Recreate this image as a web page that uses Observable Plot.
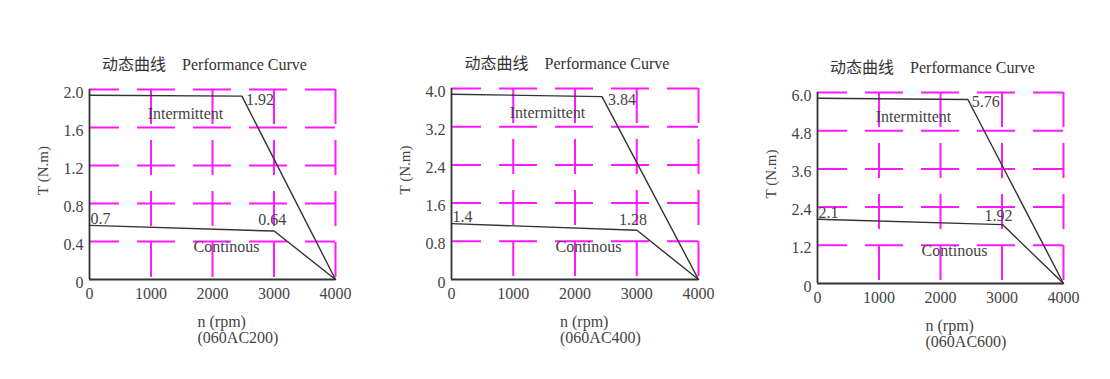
<!DOCTYPE html>
<html><head><meta charset="utf-8">
<script src="https://cdn.jsdelivr.net/npm/d3@7"></script>
<script src="https://cdn.jsdelivr.net/npm/@observablehq/plot@0.6"></script>
<style>
body{margin:0;background:#fff;}
#wrap{position:relative;width:1110px;height:379px;overflow:hidden;background:#fff}
#wrap svg{position:absolute;overflow:visible;}
</style></head><body><div id="wrap"></div>
<script>
// ---- data ----
const speedTicks = [0, 1000, 2000, 3000, 4000];
const models = ["060AC200", "060AC400", "060AC600"];
const yMax = [2.0, 4.0, 6.0];
const yTicks = [
  [0, 0.4, 0.8, 1.2, 1.6, 2.0],
  [0, 0.8, 1.6, 2.4, 3.2, 4.0],
  [0, 1.2, 2.4, 3.6, 4.8, 6.0]
];
// intermittent curve (rpm, torque N.m)
const intermittentRpm = [[0, 2478, 4000], [0, 2437, 4000], [0, 2445, 4000]];
const intermittentT   = [[1.94, 1.93, 0], [3.88, 3.83, 0], [5.82, 5.78, 0]];
// continuous curve (rpm, torque N.m)
const continuousRpm = [[0, 3003, 4000], [0, 3003, 4000], [0, 3008, 4000]];
const continuousT   = [[0.57, 0.51, 0], [1.17, 1.03, 0], [2.02, 1.85, 0]];
// annotation texts
const peakLabels = ["1.92", "3.84", "5.76"];
const contStartLabels = ["0.7", "1.4", "2.1"];
const contEndLabels = ["0.64", "1.28", "1.92"];
const titleText = "动态曲线\u00a0\u00a0\u00a0\u00a0Performance Curve";
const yLabel = "T (N.m)";
const xLabel = "n (rpm)";

// ---- layout (pixels) ----
const layout = [
  {left: 0,   top: 30, mL: 89, mT: 59, mR: 35, mB: 100, peak: [4, 4], cs: [1, -6], ce: [-2, -11]},
  {left: 370, top: 30, mL: 81, mT: 58, mR: 42, mB: 100, peak: [6, 3], cs: [1, -7], ce: [-4, -10]},
  {left: 740, top: 30, mL: 77, mT: 62, mR: 47, mB: 96,  peak: [4, 2], cs: [1, -6], ce: [-4, -9]}
];
const W = 370, H = 349;
const magenta = "#ff19ff";
const ink = "#333";
const grey = "#444";
const font = "'Liberation Serif', 'Noto Sans CJK SC', serif";

const wrap = document.getElementById("wrap");

models.forEach((model, i) => {
  const L = layout[i];
  const inter = intermittentRpm[i].map((r, k) => ({rpm: r, t: intermittentT[i][k]}));
  const cont = continuousRpm[i].map((r, k) => ({rpm: r, t: continuousT[i][k]}));
  const gridY = yTicks[i].filter(v => v > 0);
  const gridX = speedTicks.filter(v => v > 0);

  const chart = Plot.plot({
    width: W, height: H,
    marginLeft: L.mL, marginTop: L.mT, marginRight: L.mR, marginBottom: L.mB,
    style: {fontFamily: font, fontSize: "16px", color: ink, background: "transparent", overflow: "visible"},
    x: {domain: [0, 4000]},
    y: {domain: [0, yMax[i]]},
    marks: [
      Plot.ruleY(gridY, {stroke: magenta, strokeWidth: 2, strokeDasharray: "38,18", strokeDashoffset: 8}),
      Plot.ruleX(gridX, {stroke: magenta, strokeWidth: 2, strokeDasharray: "35,16"}),
      Plot.ruleY([0], {stroke: ink, strokeWidth: 1.8}),
      Plot.ruleX([0], {stroke: ink, strokeWidth: 1.8}),
      Plot.line(inter, {x: "rpm", y: "t", stroke: ink, strokeWidth: 1.4}),
      Plot.line(cont, {x: "rpm", y: "t", stroke: ink, strokeWidth: 1.4}),
      // annotations
      Plot.text([inter[1]], {x: "rpm", y: "t", text: () => peakLabels[i], textAnchor: "start", dx: L.peak[0], dy: L.peak[1], fill: grey, fontSize: 16}),
      Plot.text([cont[0]], {x: "rpm", y: "t", text: () => contStartLabels[i], textAnchor: "start", dx: L.cs[0], dy: L.cs[1], fill: grey, fontSize: 16}),
      Plot.text([cont[1]], {x: "rpm", y: "t", text: () => contEndLabels[i], textAnchor: "middle", dx: L.ce[0], dy: L.ce[1], fill: grey, fontSize: 16}),
      Plot.text(["Intermittent"], {frameAnchor: "top-left", textAnchor: "middle", text: d => d, dx: 96, dy: 18, fill: grey, fontSize: 16, letterSpacing: "1px"}),
      Plot.text(["Continous"], {frameAnchor: "bottom-left", textAnchor: "middle", text: d => d, dx: 137, dy: -28, fill: grey, fontSize: 16, letterSpacing: "1px"}),
      // titles and axis labels
      Plot.text([titleText], {frameAnchor: "top", textAnchor: "middle", text: d => d, dx: -8, dy: -31, fill: ink, fontSize: 16}),
      Plot.text([yLabel], {frameAnchor: "left", textAnchor: "middle", text: d => d, dx: -46, dy: -14, rotate: -90, fill: grey, fontSize: 15}),
      Plot.text([xLabel], {frameAnchor: "bottom", text: d => d, textAnchor: "start", dx: -15, dy: 47, fill: grey, fontSize: 16}),
      Plot.text(["(" + model + ")"], {frameAnchor: "bottom", text: d => d, textAnchor: "start", dx: -15, dy: 63, fill: grey, fontSize: 16}),
      // axes
      Plot.axisX(speedTicks, {tickSize: 0, tickPadding: 8, label: null, fill: grey, fontSize: 16, tickFormat: d => String(d)}),
      Plot.axisY(yTicks[i], {tickSize: 0, tickPadding: 6, label: null, dy: 3, fill: grey, fontSize: 16,
        tickFormat: d => d === 0 ? "0" : d.toFixed(1)})
    ]
  });
  chart.style.left = L.left + "px";
  chart.style.top = L.top + "px";
  wrap.appendChild(chart);
});
</script>
</body></html>
